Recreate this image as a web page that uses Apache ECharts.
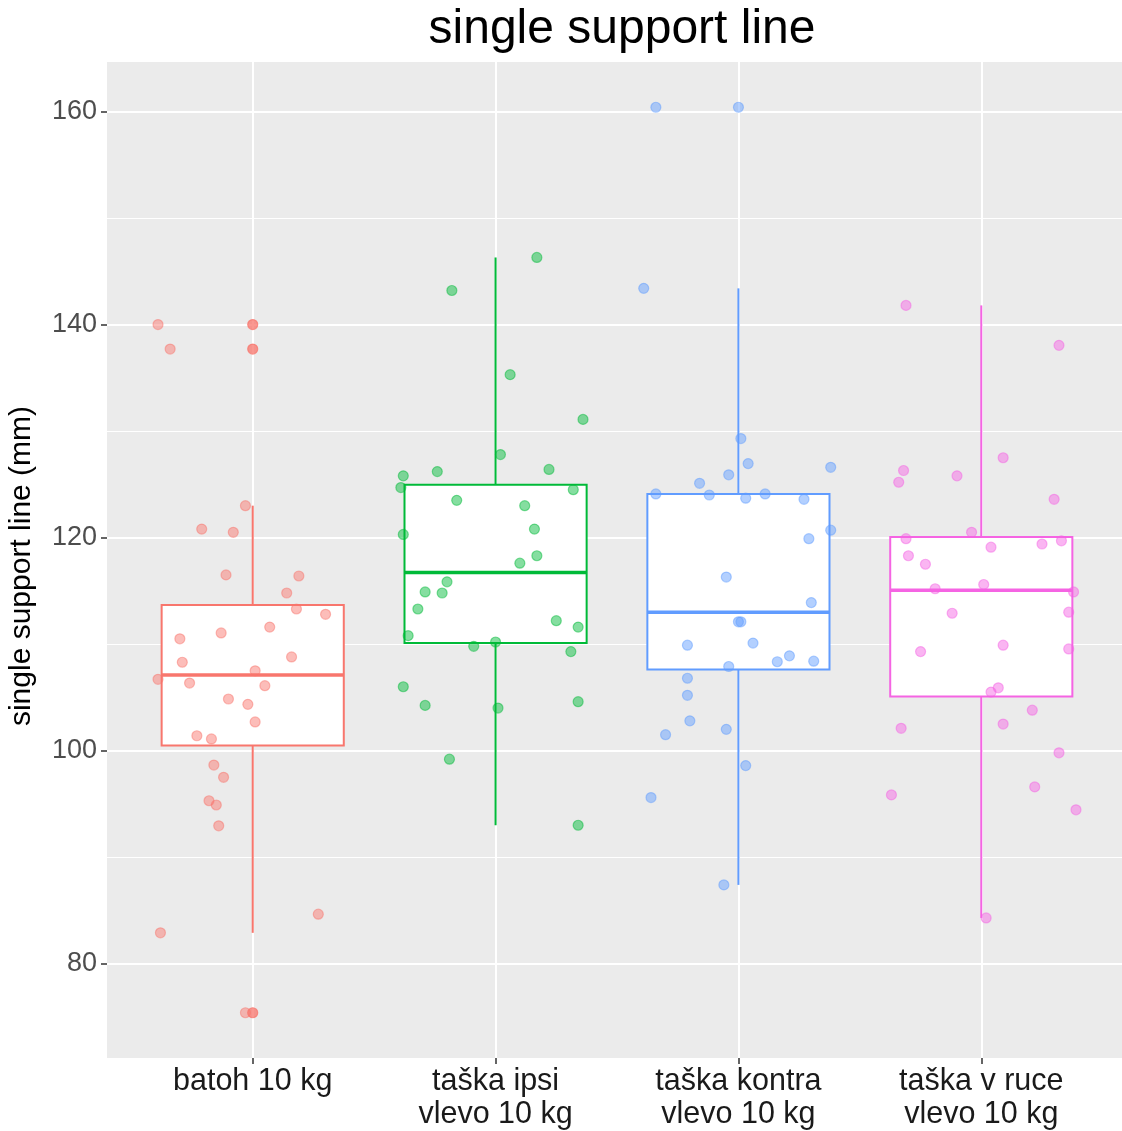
<!DOCTYPE html>
<html>
<head>
<meta charset="utf-8">
<script src="https://cdn.jsdelivr.net/npm/echarts@6/dist/echarts.min.js"></script>
<style>
  html, body { margin: 0; padding: 0; background: #fff; }
  #chart { width: 1122px; height: 1131px; }
</style>
</head>
<body>
<div id="chart"></div>
<script>
// Group labels (two-line where the name is long)
const categories = ['batoh 10 kg', 'taška ipsi\nvlevo 10 kg', 'taška kontra\nvlevo 10 kg', 'taška v ruce\nvlevo 10 kg'];

// Single support line (mm) per subject, with the horizontal jitter offset of each dot (in group units)
const batohValues = [140.0, 137.7, 123.0, 120.8, 120.5, 116.5, 116.4, 114.8, 113.3, 112.8, 111.6, 111.05, 110.5, 108.3, 108.8, 107.5,
  106.7, 106.35, 106.1, 104.85, 104.35, 102.7, 101.4, 101.1, 98.65, 97.5, 95.3, 94.9, 92.95, 84.65, 82.9, 75.4];
const batohJitter = [-0.39, -0.34, -0.03, -0.21, -0.08, -0.11, 0.19, 0.14, 0.18, 0.30, 0.07, -0.13, -0.30, -0.29, 0.16, 0.01,
  -0.39, -0.26, 0.05, -0.10, -0.02, 0.01, -0.23, -0.17, -0.16, -0.12, -0.18, -0.15, -0.14, 0.27, -0.38, -0.03];

const ipsiValues = [146.3, 143.2, 135.3, 131.1, 127.8, 125.8, 126.2, 126.4, 124.7, 124.5, 123.5, 123.0, 120.3, 120.8, 118.3, 117.6,
  115.85, 114.9, 114.8, 113.3, 112.2, 111.6, 110.8, 110.2, 109.8, 109.3, 106.0, 104.25, 104.0, 104.6, 99.2, 93.0];
const ipsiJitter = [0.17, -0.18, 0.06, 0.36, 0.02, -0.38, -0.24, 0.22, -0.39, 0.32, -0.16, 0.12, -0.38, 0.16, 0.17, 0.10,
  -0.20, -0.29, -0.22, -0.32, 0.25, 0.34, -0.36, 0.00, -0.09, 0.31, -0.38, -0.29, 0.01, 0.34, -0.19, 0.34];

const kontraValues = [160.4, 143.4, 129.3, 126.95, 126.6, 125.9, 125.1, 124.1, 124.0, 124.1, 123.7, 123.6, 120.7, 119.9, 116.3, 113.9,
  112.1, 112.1, 109.9, 110.1, 108.35, 108.9, 108.4, 107.9, 106.8, 105.2, 102.8, 101.5, 102.0, 98.6, 95.6, 87.4];
const kontraJitter = [-0.34, -0.39, 0.01, 0.04, 0.38, -0.04, -0.16, -0.34, -0.12, 0.11, 0.03, 0.27, 0.38, 0.29, -0.05, 0.30,
  0.01, 0.00, -0.21, 0.06, 0.16, 0.21, 0.31, -0.04, -0.21, -0.21, -0.20, -0.30, -0.05, 0.03, -0.36, -0.06];

const ruceValues = [141.8, 138.05, 127.5, 126.3, 125.8, 125.2, 123.6, 120.5, 119.9, 119.7, 119.4, 119.1, 118.3, 117.5, 115.2, 115.6,
  114.9, 112.9, 113.0, 109.3, 109.9, 109.55, 105.9, 105.5, 103.8, 102.1, 102.5, 99.8, 95.85, 96.6, 94.45, 84.3];
const ruceJitter = [-0.31, 0.32, 0.09, -0.32, -0.10, -0.34, 0.30, -0.04, -0.31, 0.33, 0.25, 0.04, -0.30, -0.23, -0.19, 0.01,
  0.38, -0.12, 0.36, -0.25, 0.09, 0.36, 0.07, 0.04, 0.21, -0.33, 0.09, 0.32, -0.37, 0.22, 0.39, 0.02];

// Axis ticks
const yMajorTicks = [80, 100, 120, 140, 160];
const yMinorTicks = [90, 110, 130, 150];
const xTicks = [1, 2, 3, 4];

// ---- drawing ----
const groups = [
  { values: batohValues, jitter: batohJitter },
  { values: ipsiValues, jitter: ipsiJitter },
  { values: kontraValues, jitter: kontraJitter },
  { values: ruceValues, jitter: ruceJitter }
];
const colors = ['#F8766D', '#00BA38', '#619CFF', '#F564E3'];
const outlierOpacity = [0.95, 0.6, 0.6, 0.6];
const FONT = 'Liberation Sans, Arial, Helvetica, sans-serif';

function rgba(hex, a) {
  const n = parseInt(hex.slice(1), 16);
  return 'rgba(' + (n >> 16 & 255) + ',' + (n >> 8 & 255) + ',' + (n & 255) + ',' + a + ')';
}

// Quantile (linear interpolation between order statistics)
function quantile(sorted, p) {
  const h = (sorted.length - 1) * p;
  const lo = Math.floor(h);
  const hi = Math.ceil(h);
  return sorted[lo] + (h - lo) * (sorted[hi] - sorted[lo]);
}

const boxData = [];
const outlierData = [];
groups.forEach((g, i) => {
  const s = g.values.slice().sort((a, b) => a - b);
  const q1 = quantile(s, 0.25), med = quantile(s, 0.5), q3 = quantile(s, 0.75);
  const iqr = q3 - q1;
  const inside = s.filter(v => v >= q1 - 1.5 * iqr && v <= q3 + 1.5 * iqr);
  const lo = inside[0], hi = inside[inside.length - 1];
  boxData.push([i + 1, lo, q1, med, q3, hi, i]);
  s.filter(v => v < lo || v > hi).forEach(v => outlierData.push({
    value: [i + 1, v],
    itemStyle: { color: rgba(colors[i], outlierOpacity[i]), borderColor: rgba(colors[i], outlierOpacity[i]) }
  }));
});

const halfWidth = 0.375;

const series = [];
series.push({
  type: 'custom',
  name: 'box',
  z: 2,
  data: boxData,
  encode: { x: 0, y: [1, 5] },
  renderItem: function (params, api) {
    const x = api.value(0);
    const lo = api.value(1), q1 = api.value(2), med = api.value(3), q3 = api.value(4), hi = api.value(5);
    const c = colors[api.value(6)];
    const pLo = api.coord([x, lo]), pHi = api.coord([x, hi]);
    const pQ1 = api.coord([x, q1]), pQ3 = api.coord([x, q3]);
    const left = api.coord([x - halfWidth, med])[0];
    const right = api.coord([x + halfWidth, med])[0];
    const pMed = api.coord([x, med]);
    return {
      type: 'group',
      children: [
        { type: 'line', shape: { x1: pHi[0], y1: pHi[1], x2: pQ3[0], y2: pQ3[1] }, style: { stroke: c, lineWidth: 2 } },
        { type: 'line', shape: { x1: pQ1[0], y1: pQ1[1], x2: pLo[0], y2: pLo[1] }, style: { stroke: c, lineWidth: 2 } },
        { type: 'rect', shape: { x: left, y: pQ3[1], width: right - left, height: pQ1[1] - pQ3[1] }, style: { fill: '#fff', stroke: c, lineWidth: 2 } },
        { type: 'line', shape: { x1: left, y1: pMed[1], x2: right, y2: pMed[1] }, style: { stroke: c, lineWidth: 3.5 } }
      ]
    };
  }
});

series.push({
  type: 'scatter',
  name: 'outliers',
  z: 3,
  symbolSize: 10,
  data: outlierData,
  itemStyle: { borderWidth: 1.2 }
});

groups.forEach((g, i) => {
  series.push({
    type: 'scatter',
    name: categories[i],
    z: 4,
    symbolSize: 10,
    data: g.values.map((v, k) => [i + 1 + g.jitter[k], v]),
    itemStyle: { color: rgba(colors[i], 0.6), borderColor: rgba(colors[i], 0.6), borderWidth: 1.2 }
  });
});

const chart = echarts.init(document.getElementById('chart'), null, { renderer: 'canvas' });
chart.setOption({
  animation: false,
  backgroundColor: '#fff',
  title: {
    text: 'single support line',
    left: 617,
    top: 1,
    textAlign: 'center',
    textStyle: { fontFamily: FONT, fontSize: 48, fontWeight: 'normal', color: '#000' }
  },
  grid: {
    left: 107, right: -5, top: 62, bottom: 73,
    containLabel: false,
    outerBoundsMode: 'none',
    show: true, backgroundColor: '#EBEBEB', borderWidth: 0
  },
  xAxis: {
    type: 'value',
    min: 0.4, max: 4.6,
    axisLine: { show: false },
    axisTick: { show: true, customValues: xTicks, length: 6, lineStyle: { color: '#333', width: 1.5 } },
    axisLabel: {
      customValues: xTicks,
      formatter: v => categories[Math.round(v) - 1] || '',
      fontFamily: FONT, fontSize: 30.5, color: '#1a1a1a', lineHeight: 33, margin: 7
    },
    splitLine: { show: true, lineStyle: { color: '#fff', width: 2 } }
  },
  yAxis: [
    {
      type: 'value',
      min: 71.15, max: 164.65,
      name: 'single support line (mm)',
      nameLocation: 'middle',
      nameGap: 70,
      nameRotate: 90,
      nameTextStyle: { fontFamily: FONT, fontSize: 30, color: '#000', padding: [0, 12, 0, 0] },
      axisLine: { show: false },
      axisTick: { show: true, customValues: yMajorTicks, length: 6, lineStyle: { color: '#333', width: 1.5 } },
      axisLabel: { customValues: yMajorTicks, fontFamily: FONT, fontSize: 27, color: '#4D4D4D', margin: 10 },
      splitLine: { show: true, lineStyle: { color: '#fff', width: 2 } }
    },
    {
      type: 'value',
      min: 71.15, max: 164.65,
      axisLine: { show: false },
      axisTick: { show: false, customValues: yMinorTicks },
      axisLabel: { show: false, customValues: yMinorTicks },
      splitLine: { show: true, lineStyle: { color: '#fff', width: 1 } }
    }
  ],
  series: series
});
</script>
</body>
</html>
